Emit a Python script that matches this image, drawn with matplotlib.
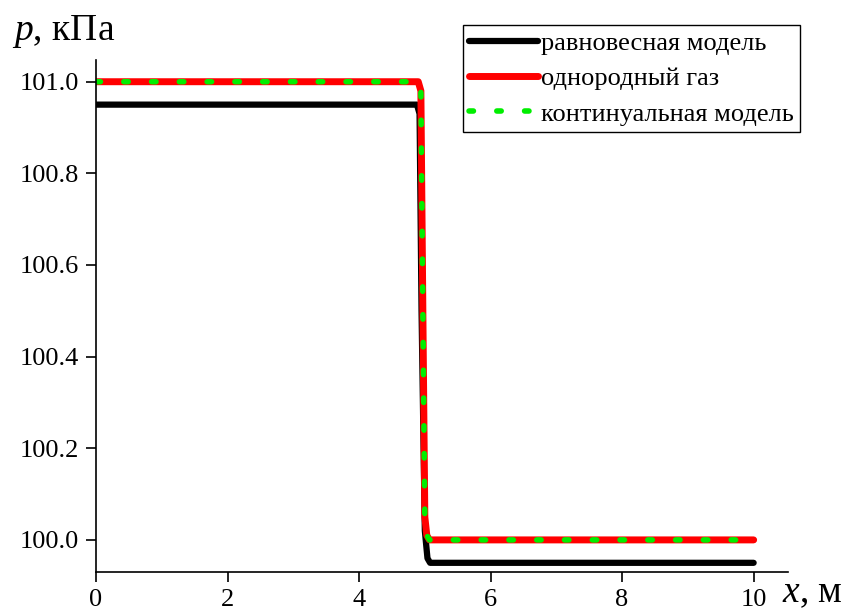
import matplotlib
matplotlib.use("Agg")
import matplotlib.pyplot as plt

plt.rcParams['font.family'] = ['Liberation Serif', 'DejaVu Serif']
plt.rcParams['mathtext.fontset'] = 'custom'
plt.rcParams['mathtext.it'] = 'Liberation Serif:italic'
plt.rcParams['mathtext.rm'] = 'Liberation Serif'

# DATA
x_eq = [0, 4.88, 4.92, 4.95, 5.0, 5.04, 5.08, 10]
p_eq = [100.95, 100.95, 100.93, 100.5, 100.02, 99.96, 99.95, 99.95]

x_gas = [0, 4.9, 4.94, 4.97, 5.0, 5.03, 5.07, 10]
p_gas = [101.0, 101.0, 100.98, 100.5, 100.05, 100.01, 100.0, 100.0]

x_cont = [0, 4.9, 4.94, 4.97, 5.0, 5.03, 5.07, 10]
p_cont = [101.0, 101.0, 100.98, 100.5, 100.05, 100.01, 100.0, 100.0]

labels = ['равновесная модель', 'однородный газ', 'континуальная модель']
xticks = [0, 2, 4, 6, 8, 10]
yticks = [100.0, 100.2, 100.4, 100.6, 100.8, 101.0]

# FIGURE
fig = plt.figure(figsize=(8.52, 6.12), dpi=100)
ax = fig.add_axes([0.1127, 0.0654, 0.812, 0.837])

ax.plot(x_eq, p_eq, color='black', lw=4.5, solid_capstyle='round', solid_joinstyle='round', label=labels[0])
ax.plot(x_gas, p_gas, color='red', lw=5, solid_capstyle='round', solid_joinstyle='round', label=labels[1])
ax.plot(x_cont, p_cont, color='#00ee00', lw=4, linestyle=(0, (0.8, 4.2)),
        dash_capstyle='round', label=labels[2])

ax.set_xlim(0, 10.52)
ax.set_ylim(99.93, 101.048)
ax.set_xticks(xticks)
ax.set_yticks(yticks)
ax.set_yticklabels([f'{v:.1f}' for v in yticks])
ax.tick_params(direction='out', length=7, width=1.2, labelsize=19, pad=5)
ax.spines['top'].set_visible(False)
ax.spines['right'].set_visible(False)
ax.spines['left'].set_linewidth(1.2)
ax.spines['bottom'].set_linewidth(1.2)

fig.text(0.014, 0.935, r'$p$, кПа', fontsize=27, ha='left', va='baseline')
fig.text(0.918, 0.016, r'$x$, м', fontsize=27, ha='left', va='baseline')

leg = ax.legend(loc='upper left', bbox_to_anchor=(0.53, 1.068), fontsize=19,
                frameon=True, fancybox=False, edgecolor='black', framealpha=1,
                handlelength=2.6, handletextpad=0.1, borderpad=0.25,
                labelspacing=0.45, borderaxespad=0)
leg.get_frame().set_linewidth(1.0)

fig.savefig('out.png', dpi=100)
